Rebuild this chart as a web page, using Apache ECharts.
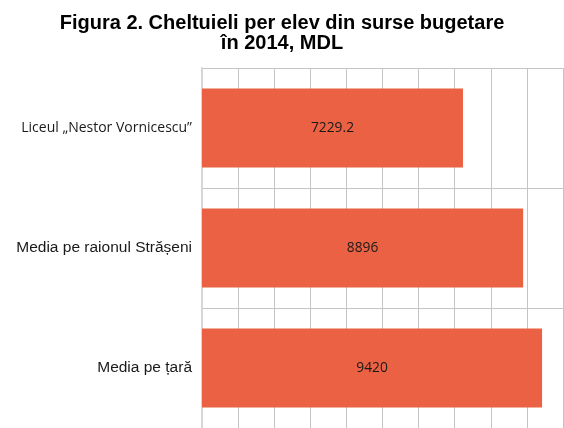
<!DOCTYPE html>
<html>
<head>
<meta charset="utf-8">
<script src="https://cdn.jsdelivr.net/npm/echarts@6/dist/echarts.min.js"></script>
<style>
  html, body { margin: 0; padding: 0; background: #fff; }
  #chart { width: 564px; height: 428px; }
</style>
</head>
<body>
<div id="chart"></div>
<script>
// date
const categories = ['Liceul „Nestor Vornicescu”', 'Media pe raionul Strășeni', 'Media pe țară']
const values = [7229.2, 8896, 9420]
const valueLabels = ['7229.2', '8896', '9420']

const myChart = echarts.init(document.getElementById('chart'))
const option = {
  animation: false,
  title: {
    text: 'Figura 2. Cheltuieli per elev din surse bugetare\nîn 2014, MDL',
    left: 'center',
    top: 8,
    textStyle: {
      fontFamily: 'Liberation Sans',
      fontWeight: 'bold',
      fontSize: 20,
      lineHeight: 20,
      color: '#000'
    }
  },
  grid: {
    left: 202,
    right: 1,
    top: 68,
    height: 367
  },
  xAxis: {
    type: 'value',
    min: 0,
    max: 10000,
    interval: 1000,
    axisLabel: { show: false },
    axisTick: { show: false },
    axisLine: { show: false },
    splitLine: { lineStyle: { color: '#c4c4c4', width: 1 } }
  },
  yAxis: {
    type: 'category',
    data: categories,
    inverse: true,
    axisTick: { show: false },
    axisLine: { lineStyle: { color: '#d6d6d6', width: 2 } },
    splitLine: { show: true, lineStyle: { color: '#c4c4c4', width: 1 } },
    axisLabel: {
      margin: 10,
      color: '#1a1a1a',
      formatter: (v, i) => i === 0 ? '{a|' + v + '}' : '{b|' + v + '}',
      rich: {
        a: { fontFamily: 'Open Sans', fontSize: 14, color: '#1a1a1a' },
        b: { fontFamily: 'Liberation Sans', fontSize: 15.5, color: '#1a1a1a' }
      }
    }
  },
  series: [
    {
      type: 'bar',
      data: values,
      barCategoryGap: '34%',
      itemStyle: { color: '#EB6143' },
      label: {
        show: true,
        position: 'inside',
        formatter: p => valueLabels[p.dataIndex],
        fontFamily: 'Open Sans',
        fontSize: 13.8,
        color: '#1a1a1a'
      }
    }
  ]
}
myChart.setOption(option)
</script>
</body>
</html>
